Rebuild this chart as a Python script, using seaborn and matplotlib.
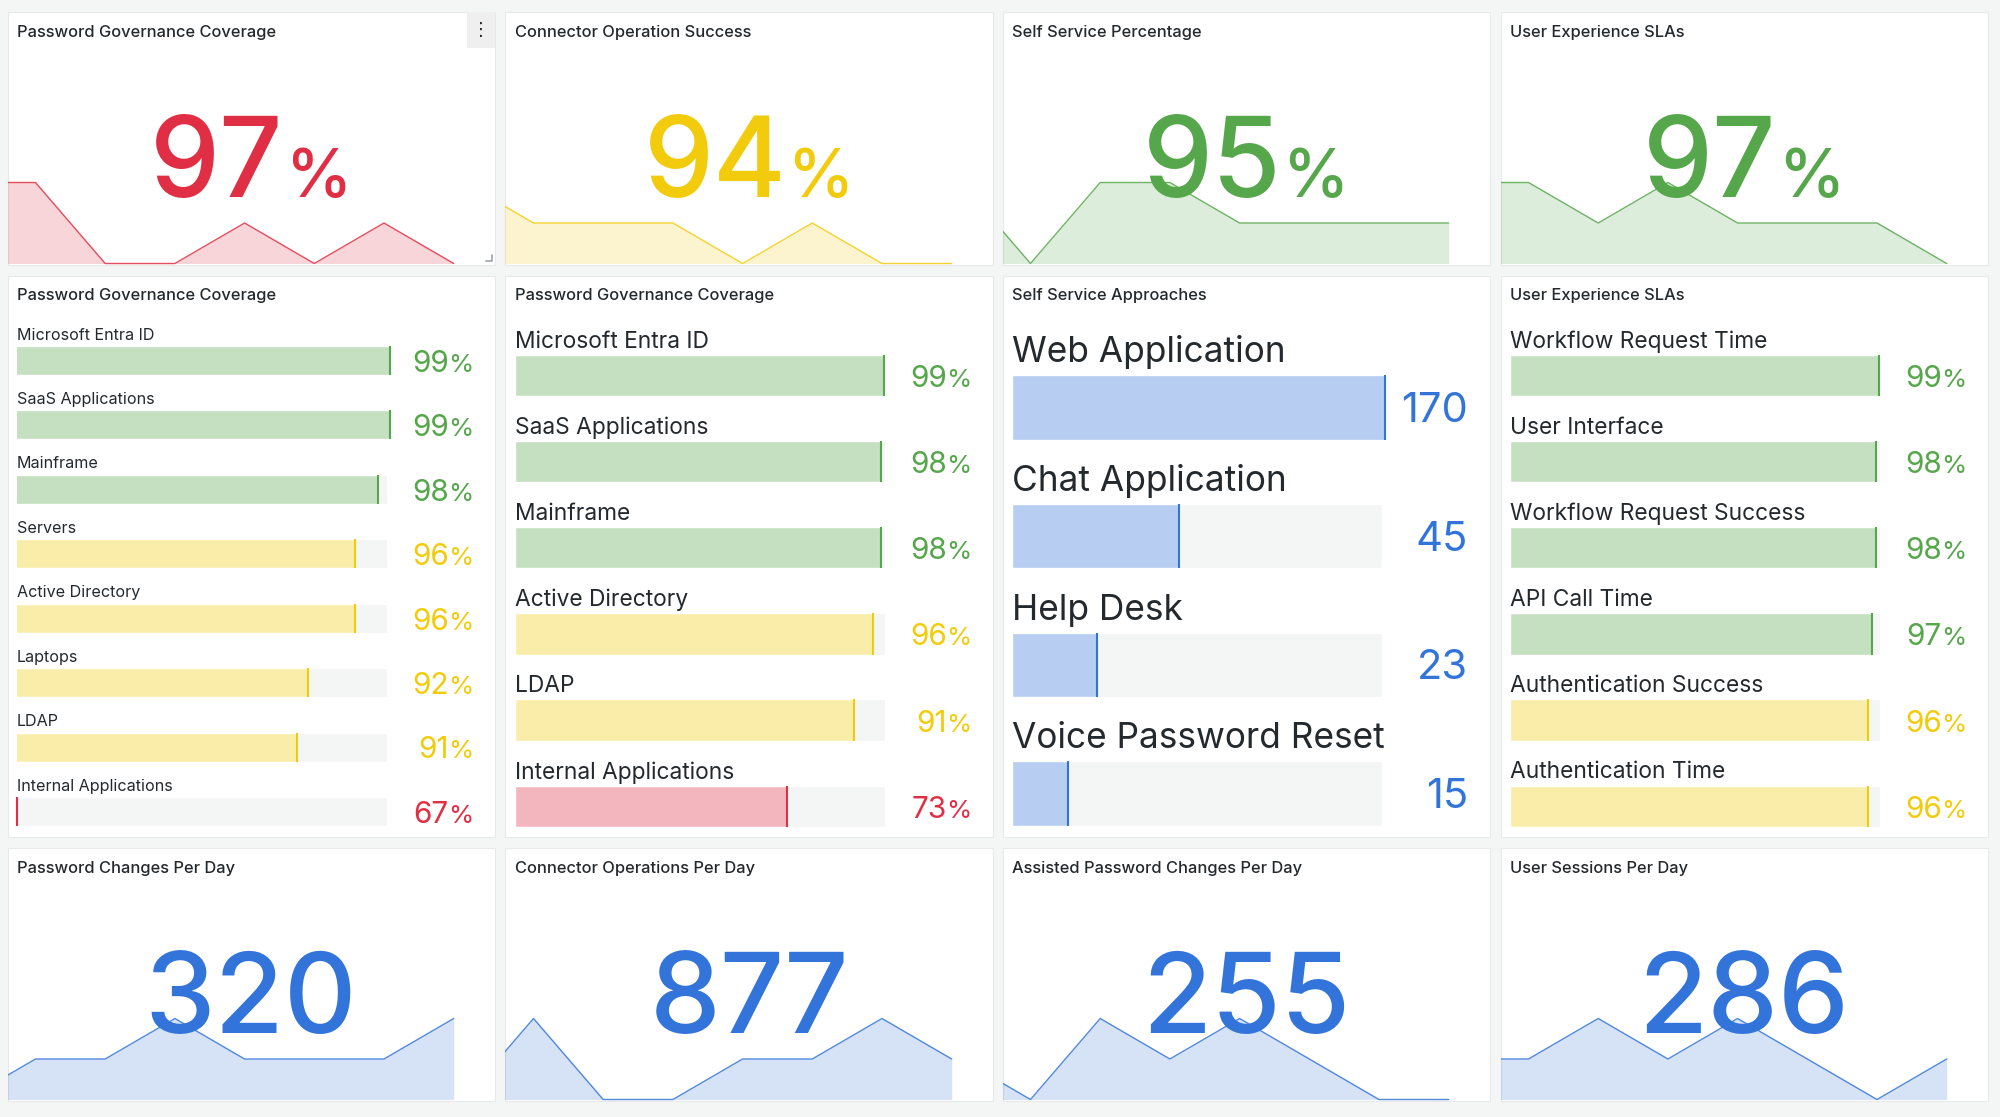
"""Identity dashboard mock: stat panels with sparklines and bar gauges."""
import matplotlib.pyplot as plt
import numpy as np
import seaborn as sns
from matplotlib.colors import to_rgb
from matplotlib.patches import Rectangle

WIDTH, HEIGHT = 2000, 1117

GREEN = "#56A64B"
YELLOW = "#F2CC0C"
RED = "#E02F44"
BLUE = "#3274D9"
PAGE = "#F4F5F5"
TRACK = "#F4F5F5"
BORDER = "#E8E9EB"
INK = "#24292E"

# top row stats
top_titles = ["Password Governance Coverage", "Connector Operation Success",
              "Self Service Percentage", "User Experience SLAs"]
top_values = ["97", "94", "95", "97"]
top_colors = [RED, YELLOW, GREEN, GREEN]
top_spark = [
    [98, 98, 96, 96, 97, 96, 97, 96],
    [96, 95, 95, 95, 94, 95, 94, 94],
    [97, 95, 97, 97, 96, 96, 96, 96],
    [98, 98, 97, 98, 97, 97, 97, 96],
]

# bottom row stats
bottom_titles = ["Password Changes Per Day", "Connector Operations Per Day",
                 "Assisted Password Changes Per Day", "User Sessions Per Day"]
bottom_values = ["320", "877", "255", "286"]
bottom_spark = [
    [0, 1, 1, 2, 1, 1, 1, 2],
    [0, 2, 0, 0, 1, 1, 2, 1],
    [1, 0, 2, 1, 2, 1, 0, 0],
    [1, 1, 2, 1, 2, 1, 0, 1],
]

# bar gauges
coverage_labels = ["Microsoft Entra ID", "SaaS Applications", "Mainframe", "Servers",
                   "Active Directory", "Laptops", "LDAP", "Internal Applications"]
coverage_values = [99, 99, 98, 96, 96, 92, 91, 67]

coverage2_labels = ["Microsoft Entra ID", "SaaS Applications", "Mainframe",
                    "Active Directory", "LDAP", "Internal Applications"]
coverage2_values = [99, 98, 98, 96, 91, 73]

approach_labels = ["Web Application", "Chat Application", "Help Desk", "Voice Password Reset"]
approach_values = [170, 45, 23, 15]

sla_labels = ["Workflow Request Time", "User Interface", "Workflow Request Success",
              "API Call Time", "Authentication Success", "Authentication Time"]
sla_values = [99, 98, 98, 97, 96, 96]

PANEL_X = [7.5, 505.5, 1002.5, 1500.5]
PANEL_W = 487
ROWS = [(11.5, 253), (275.5, 561), (847.5, 253)]
POINT_STEP = 69.7
LEVEL_PX = 40.5

sns.set_theme(style="white")
plt.rcParams["font.family"] = ["Inter", "DejaVu Sans"]

fig = plt.figure(figsize=(WIDTH / 100, HEIGHT / 100), dpi=100, facecolor=PAGE)
renderer = fig.canvas.get_renderer()


def fx(x):
    return x / WIDTH


def fy(y):
    return 1 - y / HEIGHT


def tint(color, alpha=0.35):
    return tuple(alpha * c + (1 - alpha) for c in to_rgb(color))


def pct_color(v):
    if v >= 97:
        return GREEN
    if v >= 80:
        return YELLOW
    return RED


def draw_panel(col, row, title):
    top, h = ROWS[row]
    fig.add_artist(Rectangle((fx(PANEL_X[col]), fy(top + h)), PANEL_W / WIDTH, h / HEIGHT,
                             transform=fig.transFigure, facecolor="white",
                             edgecolor=BORDER, linewidth=0.8, zorder=-1))
    fig.text(fx(PANEL_X[col] + 9.5), fy(top + 25), title, fontsize=11.85, fontweight="medium",
             color=INK, va="baseline")


def text_width(t):
    return t.get_window_extent(renderer).width


def draw_value(x, baseline, number, unit, size, unit_size, color, gap, center=False, weight="normal"):
    # number and unit are separate texts, so place them by measured width
    num = fig.text(0, fy(baseline), number, fontsize=size, color=color, va="baseline", ha="left",
                   fontweight=weight)
    w_num = text_width(num)
    w_unit = 0
    right = x
    if unit:
        un = fig.text(0, fy(baseline), unit, fontsize=unit_size, color=color, va="baseline", ha="left",
                      fontweight=weight)
        w_unit = text_width(un)
    if center:
        right = x + (w_num + (gap + w_unit if unit else 0)) / 2
    if unit:
        un.set_x(fx(right - w_unit))
        num.set_x(fx(right - w_unit - gap - w_num))
    else:
        num.set_x(fx(right - w_num))


def draw_spark(col, row, values, color):
    top, h = ROWS[row]
    ax = fig.add_axes([fx(PANEL_X[col]), fy(top + h), PANEL_W / WIDTH, h / HEIGHT])
    vals = np.array(values, dtype=float)
    low = vals.min() if row == 2 else {0: 96, 1: 94, 2: 95, 3: 96}[col]
    xs = np.arange(len(vals))
    sns.lineplot(x=xs, y=vals, color=color, linewidth=1.0, alpha=0.85, ax=ax, legend=False)
    ax.fill_between(xs, vals, low, color=color, alpha=0.2, linewidth=0)
    left = 1 - (36 - 8) / POINT_STEP
    ax.set_xlim(left, left + PANEL_W / POINT_STEP)
    ax.set_ylim(low - 1 / LEVEL_PX, low + (h - 1) / LEVEL_PX)
    ax.axis("off")


def draw_gauge(col, labels, values, vmin, vmax, first_top, bar_h, step, label_size, label_gap,
               value_size, unit_size, value_offset, unit, colors, extra=4, right_pad=465.5):
    track_w = 370
    n = len(labels)
    left = PANEL_X[col] + 9.5
    total_h = step * (n - 1) + bar_h
    ax = fig.add_axes([fx(left), fy(first_top + total_h), (track_w + extra) / WIDTH, total_h / HEIGHT])
    w = bar_h / step
    sns.barplot(x=[vmax] * n, y=labels, color=TRACK, saturation=1, width=w, orient="h", ax=ax)
    sns.barplot(x=values, y=labels, hue=labels, palette=[tint(c) for c in colors], saturation=1,
                width=w, dodge=False, legend=False, orient="h", ax=ax)
    xhi = vmax + (vmax - vmin) * extra / track_w
    pos = np.arange(n)
    ax.vlines(np.minimum(values, xhi), pos - w / 2, pos + w / 2, colors=colors, linewidth=1.5,
              clip_on=False)
    ax.set_xlim(vmin, xhi)
    ax.set_ylim(n - 1 + w / 2, -w / 2)
    ax.axis("off")
    for i, label in enumerate(labels):
        ax.annotate(label, xy=(vmin, i - w / 2), xytext=(0, label_gap * 0.72),
                    textcoords="offset points", fontsize=label_size, color=INK, va="baseline",
                    annotation_clip=False)
        base = first_top + i * step + bar_h / 2 + value_offset
        draw_value(PANEL_X[col] + right_pad, base, str(values[i]), unit, value_size, unit_size,
                   colors[i], -1)


# top row
for c in range(4):
    draw_panel(c, 0, top_titles[c])
    draw_spark(c, 0, top_spark[c], top_colors[c])
    draw_value(PANEL_X[c] + PANEL_W / 2, 197, top_values[c], "%", 80, 48, top_colors[c], 2,
               center=True, weight="medium")

# hover menu and resize handle on the first panel
fig.add_artist(Rectangle((fx(467), fy(48)), 28 / WIDTH, 36 / HEIGHT, transform=fig.transFigure,
                         facecolor="#EFEFEF", edgecolor="none"))
fig.text(fx(481), fy(30), "\u22ee", fontsize=13, color=INK, ha="center", va="center",
         family="DejaVu Sans")
fig.add_artist(plt.Line2D([fx(486), fx(492), fx(492)], [fy(261), fy(261), fy(255)],
                          color="#A0A4A8", linewidth=1.2))

# gauges
draw_panel(0, 1, top_titles[0])
draw_gauge(0, coverage_labels, coverage_values, 67, 98.75, 345.5, 29, 64.5, 11.6, 6, 21.5, 18.5, 11.5, "%",
           [pct_color(v) for v in coverage_values])
draw_panel(1, 1, top_titles[0])
draw_gauge(1, coverage2_labels, coverage2_values, 0, 99.2, 354.5, 41.5, 86.2, 16.4, 7, 21.5, 18.5, 11.5, "%",
           [pct_color(v) for v in coverage2_values])
draw_panel(2, 1, "Self Service Approaches")
draw_gauge(2, approach_labels, approach_values, 0, 100, 375, 64.5, 128.8, 25.4, 13, 30, 20, 14.5, "",
           [BLUE] * len(approach_values), extra=3, right_pad=465.5)
draw_panel(3, 1, "User Experience SLAs")
draw_gauge(3, sla_labels, sla_values, 0, 99.2, 354.5, 41.5, 86.2, 16.4, 7, 21.5, 18.5, 11.5, "%",
           [pct_color(v) for v in sla_values])

# bottom row
for c in range(4):
    draw_panel(c, 2, bottom_titles[c])
    draw_spark(c, 2, bottom_spark[c], BLUE)
    draw_value(PANEL_X[c] + PANEL_W / 2, 1033, bottom_values[c], "", 81, 48, BLUE, 0,
               center=True, weight="medium")

fig.savefig("out.png", dpi=100, facecolor=PAGE)
plt.close(fig)
